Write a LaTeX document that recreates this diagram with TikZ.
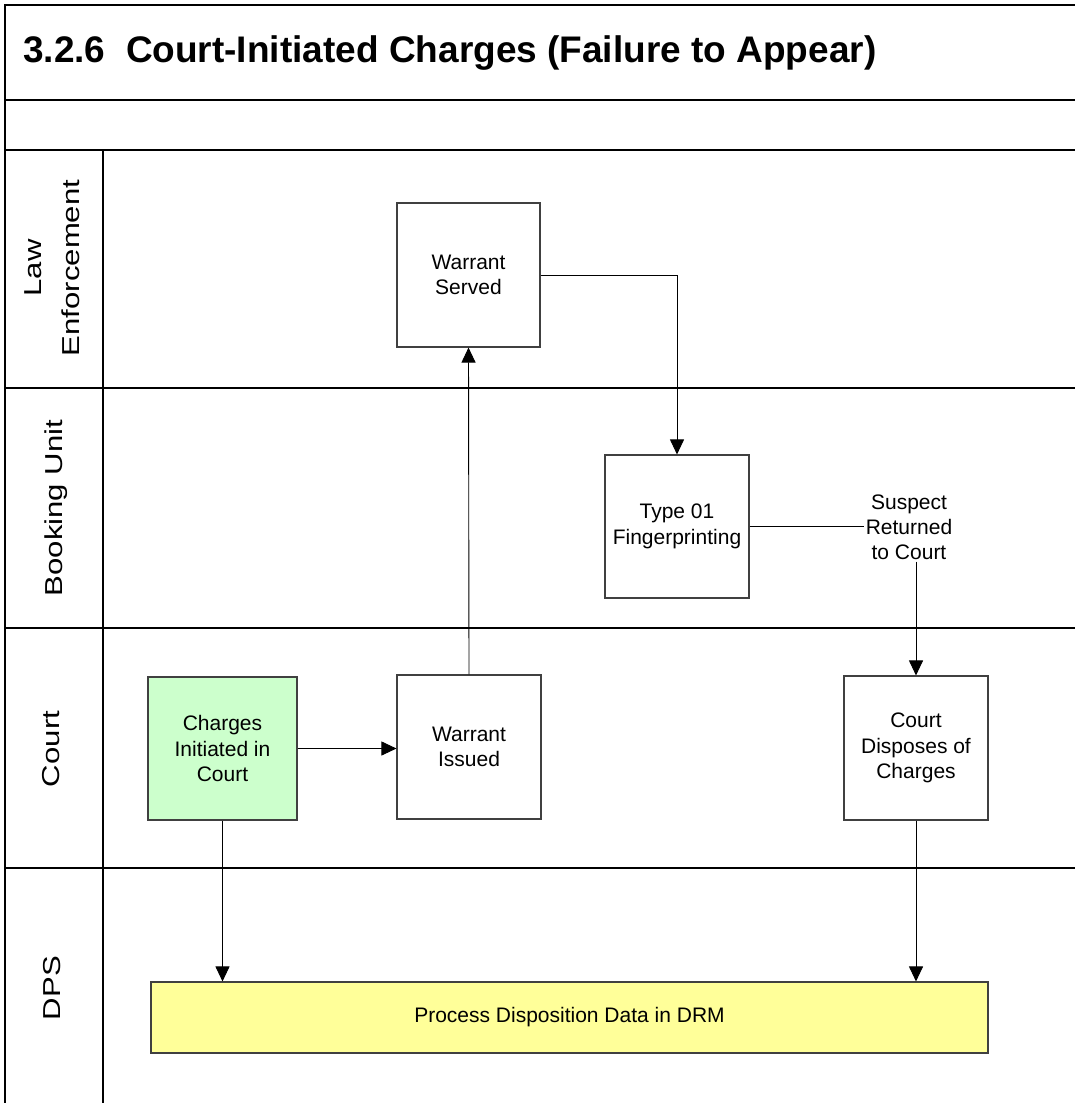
\documentclass[tikz,border=0pt]{standalone}
\usepackage{fontspec}
\setmainfont{Liberation Sans}
\usetikzlibrary{arrows.meta}
\definecolor{boxgreen}{HTML}{CCFFCC}
\definecolor{boxyellow}{HTML}{FFFF99}
\newcommand{\lanetext}[1]{\scalebox{1.27}[1]{\fontsize{24.5}{38}\selectfont\begin{tabular}{@{}c@{}}#1\end{tabular}}}
\tikzset{
  lane/.style={line width=1.3pt, draw=black},
  procbox/.style={draw=black!75, line width=1.1pt, align=center, inner sep=2pt,
    font=\fontsize{21}{25.5}\selectfont},
  lanelabel/.style={rotate=90, inner sep=0pt},
  arr/.style={draw=black, line width=0.9pt, -{Triangle[length=15pt,width=14pt]}},
  conn/.style={draw=black, line width=0.9pt},
}
\begin{document}
\begin{tikzpicture}[x=1pt,y=-1pt]
\useasboundingbox (0,0) rectangle (1075,1103);
% frame and lanes
\draw[lane] (1075,5) -- (5,5) -- (5,1103);
\draw[lane] (5,100) -- (1075,100);
\draw[lane] (5,150) -- (1075,150);
\draw[lane] (5,388) -- (1075,388);
\draw[lane] (5,628) -- (1075,628);
\draw[lane] (5,868) -- (1075,868);
\draw[lane] (103,150) -- (103,1103);
% title
\node[anchor=west, inner sep=0pt, font=\bfseries\fontsize{37}{40}\selectfont] (title) at (23,53) {3.2.6\ \ Court-Initiated Charges (Failure to Appear)};
% lane labels
\node[lanelabel] (lle) at (53,268) {\lanetext{Law\\Enforcement}};
\node[lanelabel] (lbu) at (55,508) {\lanetext{Booking Unit}};
\node[lanelabel] (lco) at (52,749) {\lanetext{Court}};
\node[lanelabel] (ldp) at (53,988) {\lanetext{DPS}};
% process boxes
\node[procbox, minimum width=143pt, minimum height=144pt] (ws) at (468.5,275) {Warrant\\Served};
\node[procbox, minimum width=144pt, minimum height=143pt] (fp) at (677,526.5) {Type 01\\Fingerprinting};
\node[procbox, fill=boxgreen, minimum width=149pt, minimum height=143pt] (ci) at (222.5,748.5) {Charges\\Initiated in\\Court};
\node[procbox, minimum width=144pt, minimum height=144pt] (wi) at (469,747) {Warrant\\Issued};
\node[procbox, minimum width=144pt, minimum height=144pt] (cd) at (916,748) {Court\\Disposes of\\Charges};
\node[procbox, fill=boxyellow, minimum width=837pt, minimum height=71pt] (pd) at (569.5,1017.5) {Process Disposition Data in DRM};
% connector label
\node[align=center, inner sep=2pt, font=\fontsize{21}{25}\selectfont] (sr) at (909,527) {Suspect\\Returned\\to Court};
% connectors
\draw[arr] (wi.north) -- (ws.south);
\draw[arr] (ws.east) -| (fp.north);
\draw[arr] (ci.east) -- (ci.east -| wi.west);
\draw[conn] (fp.east) -- (fp.east -| sr.west);
\draw[arr] (sr.south -| cd.north) -- (cd.north);
\draw[arr] (ci.south) -- (ci.south |- pd.north);
\draw[arr] (cd.south) -- (cd.south |- pd.north);
\end{tikzpicture}
\end{document}
